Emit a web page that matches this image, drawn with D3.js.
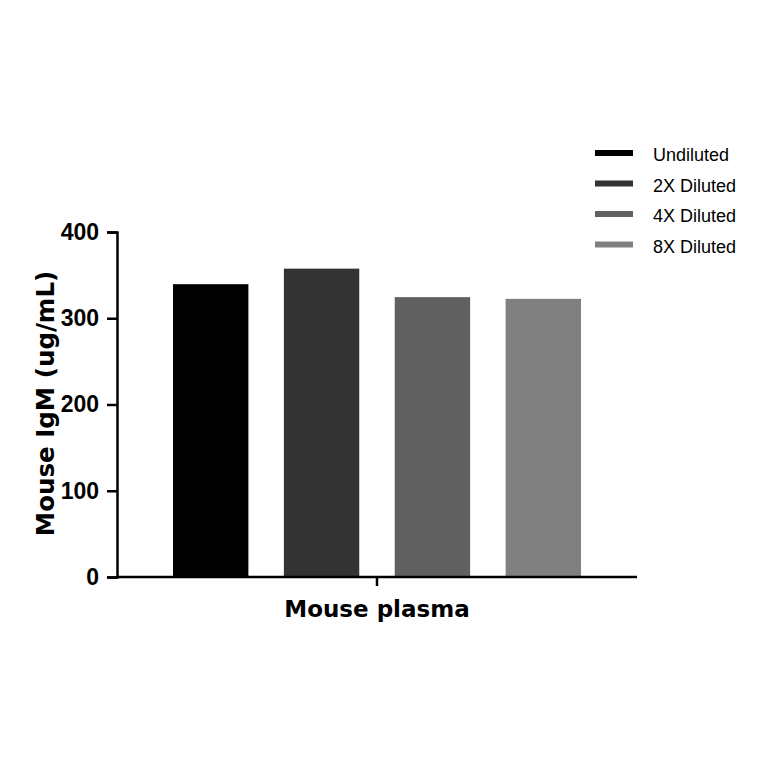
<!DOCTYPE html>
<html>
<head>
<meta charset="utf-8">
<script src="https://cdn.jsdelivr.net/npm/d3@7"></script>
<style>
  body { margin: 0; background: #fff; }
</style>
</head>
<body>
<div id="chart"></div>
<script>
// Chart data
const groups = ['Undiluted', '2X Diluted', '4X Diluted', '8X Diluted'];
const values = [339.5, 357.5, 324.5, 322.5];
const colors = ['#000000', '#333333', '#606060', '#808080'];
const yTicks = [0, 100, 200, 300, 400];
const xLabel = 'Mouse plasma';
const yLabel = 'Mouse IgM (ug/mL)';

const width = 764, height = 764;
const margin = { top: 232, left: 117, right: 127, bottom: 187 };
const chartWidth = width - margin.left - margin.right;
const chartHeight = height - margin.top - margin.bottom;

const svg = d3.select('#chart').append('svg')
    .attr('width', width)
    .attr('height', height);

const g = svg.append('g')
    .attr('transform', `translate(${margin.left},${margin.top})`);

const yScale = d3.scaleLinear().domain([0, 400]).range([chartHeight, 0]);
const xScale = d3.scaleBand()
    .domain(groups)
    .range([56, 464])
    .paddingInner(0.32)
    .paddingOuter(0);

const headFont = '"DejaVu Sans", sans-serif';

// Bars
g.selectAll('.bar')
    .data(groups)
    .join('rect')
    .attr('class', 'bar')
    .attr('x', d => xScale(d))
    .attr('width', xScale.bandwidth())
    .attr('y', (d, i) => yScale(values[i]))
    .attr('height', (d, i) => chartHeight - yScale(values[i]))
    .attr('fill', (d, i) => colors[i]);

// Y axis
const yAxis = g.append('g')
    .call(d3.axisLeft(yScale).tickValues(yTicks).tickSize(10).tickPadding(8));
yAxis.select('.domain').attr('stroke', '#000').attr('stroke-width', 2.5);
yAxis.selectAll('.tick line').attr('stroke', '#000').attr('stroke-width', 2.5);
yAxis.selectAll('.tick text')
    .attr('fill', '#000')
    .style('font-family', '"Liberation Sans", Arial, sans-serif')
    .style('font-weight', 'bold')
    .style('font-size', '23px');

// X axis line with center tick
g.append('line')
    .attr('x1', 0).attr('x2', chartWidth)
    .attr('y1', chartHeight).attr('y2', chartHeight)
    .attr('stroke', '#000').attr('stroke-width', 2.5);
g.append('line')
    .attr('x1', chartWidth / 2).attr('x2', chartWidth / 2)
    .attr('y1', chartHeight).attr('y2', chartHeight + 9)
    .attr('stroke', '#000').attr('stroke-width', 2.5);

// Axis labels
g.append('text')
    .attr('x', chartWidth / 2)
    .attr('y', chartHeight + 40)
    .attr('text-anchor', 'middle')
    .style('font-family', headFont)
    .style('font-weight', 'bold')
    .style('font-size', '23px')
    .text(xLabel);

g.append('text')
    .attr('transform', 'rotate(-90)')
    .attr('x', -(chartHeight / 2) + 1)
    .attr('y', -63)
    .attr('text-anchor', 'middle')
    .style('font-family', headFont)
    .style('font-weight', 'bold')
    .style('font-size', '24.5px')
    .text(yLabel);

// Legend
const legend = svg.append('g')
    .attr('transform', 'translate(595,153)');

groups.forEach((name, i) => {
    const item = legend.append('g')
        .attr('transform', `translate(0,${i * 30.5})`);
    item.append('rect')
        .attr('x', 0).attr('y', -3)
        .attr('width', 38).attr('height', 6)
        .attr('fill', colors[i]);
    item.append('text')
        .attr('x', 58).attr('y', 8)
        .style('font-family', '"Liberation Sans", Arial, sans-serif')
        .style('font-size', '18px')
        .attr('fill', '#000')
        .text(name);
});
</script>
</body>
</html>
